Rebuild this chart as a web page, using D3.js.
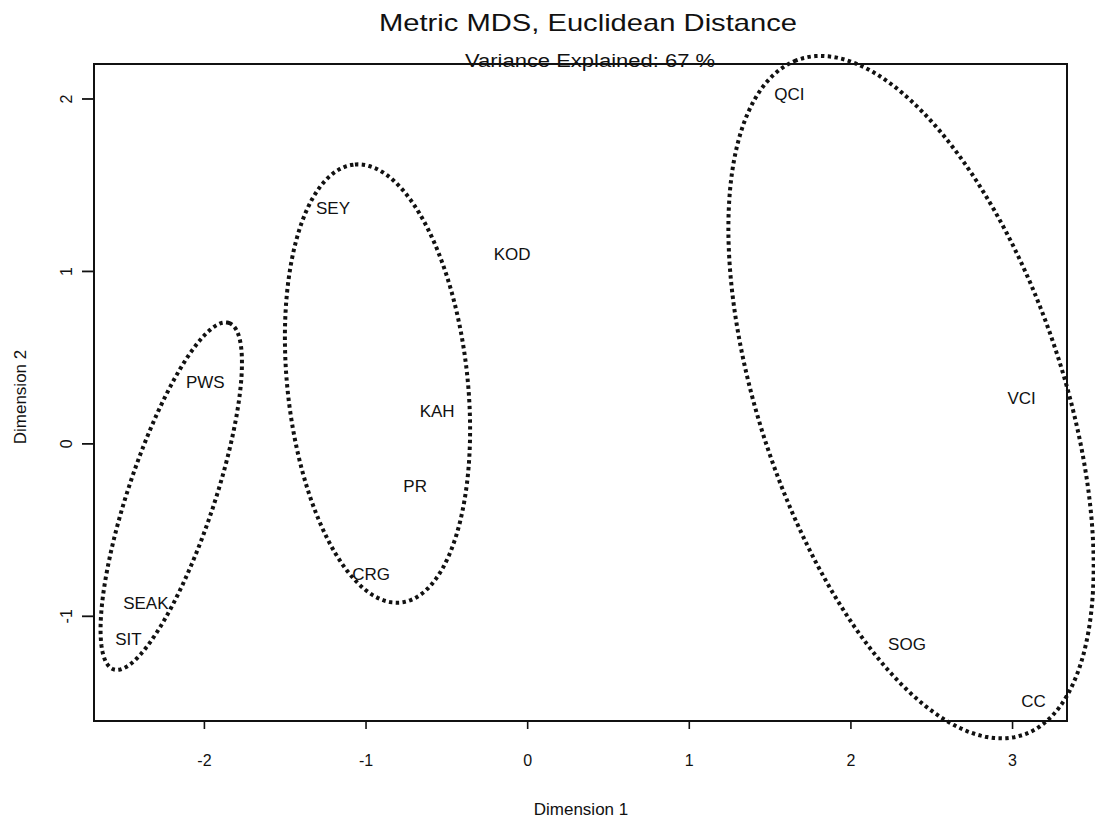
<!DOCTYPE html>
<html>
<head>
<meta charset="utf-8">
<script src="https://cdn.jsdelivr.net/npm/d3@7"></script>
<style>
  html, body { margin: 0; padding: 0; background: #fff; }
  svg { display: block; }
  text { font-family: Arial, "Liberation Sans", Helvetica, sans-serif; fill: #111; }
</style>
</head>
<body>
<svg id="chart" width="1095" height="819"></svg>
<script>
// Site coordinates on the first two MDS dimensions
const sites = ["SEY", "KOD", "QCI", "PWS", "KAH", "VCI", "PR", "CRG", "SEAK", "SIT", "SOG", "CC"];
const dim1  = [-1.201, -0.093, 1.622, -1.991, -0.557, 3.059, -0.693, -0.966, -2.359, -2.467, 2.350, 3.133];
const dim2  = [1.365, 1.098, 2.024, 0.358, 0.190, 0.265, -0.248, -0.756, -0.927, -1.131, -1.160, -1.496];

// Group ellipses in data units: centre, semi-axes, rotation (degrees)
const ellipseCx    = [-2.202, -0.926, 2.375];
const ellipseCy    = [-0.306, 0.347, 0.268];
const ellipseA     = [1.066, 1.278, 2.078];
const ellipseB     = [0.265, 0.557, 0.935];
const ellipseAngle = [70.3, 96.7, 110.0];

// Axis ticks
const xTicks = [-2, -1, 0, 1, 2, 3];
const yTicks = [-1, 0, 1, 2];

const title = "Metric MDS, Euclidean Distance";
const subtitle = "Variance Explained: 67 %";

const svg = d3.select("#chart");

const x = d3.scaleLinear().domain([-2.68, 3.34]).range([94, 1067]);
const y = d3.scaleLinear().domain([-1.61, 2.20]).range([721, 64]);

// plain hyphen for negative tick values
const tickText = d => String(d);

// Bottom axis
const xAxis = d3.axisBottom(x).tickValues(xTicks).tickSize(8).tickPadding(26).tickFormat(tickText);
const gx = svg.append("g").attr("transform", `translate(0,${y.range()[0]})`).call(xAxis);
gx.select(".domain").remove();
gx.selectAll("line").attr("stroke", "#111").attr("stroke-width", 1.6);
gx.selectAll("text").attr("font-size", 16).attr("fill", "#111")
  .attr("font-family", "Arial, 'Liberation Sans', sans-serif");

// Left axis with rotated labels
const yAxis = d3.axisLeft(y).tickValues(yTicks).tickSize(12).tickFormat(tickText);
const gy = svg.append("g").attr("transform", `translate(${x.range()[0]},0)`).call(yAxis);
gy.select(".domain").remove();
gy.selectAll("line").attr("stroke", "#111").attr("stroke-width", 1.8);
gy.selectAll("text")
  .attr("font-size", 16).attr("fill", "#111")
  .attr("font-family", "Arial, 'Liberation Sans', sans-serif")
  .attr("x", null).attr("dy", null)
  .attr("text-anchor", "middle")
  .attr("transform", "translate(-22,0) rotate(-90)");

// Plot frame
svg.append("rect")
  .attr("x", x.range()[0]).attr("y", y.range()[1])
  .attr("width", x.range()[1] - x.range()[0])
  .attr("height", y.range()[0] - y.range()[1])
  .attr("fill", "none").attr("stroke", "#111").attr("stroke-width", 2);

// Group ellipses, dotted
const line = d3.line().curve(d3.curveLinearClosed);
const nSeg = 240;
ellipseCx.forEach((cx, i) => {
  const th = ellipseAngle[i] * Math.PI / 180;
  const pts = d3.range(nSeg).map(k => {
    const t = 2 * Math.PI * k / nSeg;
    const u = ellipseA[i] * Math.cos(t), v = ellipseB[i] * Math.sin(t);
    const dx = u * Math.cos(th) - v * Math.sin(th);
    const dy = u * Math.sin(th) + v * Math.cos(th);
    return [x(cx + dx), y(ellipseCy[i] + dy)];
  });
  svg.append("path")
    .attr("d", line(pts))
    .attr("fill", "none")
    .attr("stroke", "#111")
    .attr("stroke-width", 4)
    .attr("stroke-dasharray", "3.4 3.4");
});

// Site labels
svg.append("g").selectAll("text")
  .data(sites)
  .join("text")
  .attr("x", (d, i) => x(dim1[i]))
  .attr("y", (d, i) => y(dim2[i]))
  .attr("dy", "0.36em")
  .attr("text-anchor", "middle")
  .attr("font-size", 17)
  .text(d => d);

// Titles
svg.append("text")
  .attr("x", 588).attr("y", 31)
  .attr("text-anchor", "middle")
  .attr("font-size", 24)
  .attr("textLength", 418).attr("lengthAdjust", "spacingAndGlyphs")
  .text(title);

svg.append("text")
  .attr("x", 590).attr("y", 67)
  .attr("text-anchor", "middle")
  .attr("font-size", 18)
  .attr("textLength", 250).attr("lengthAdjust", "spacingAndGlyphs")
  .text(subtitle);

// Axis titles
svg.append("text")
  .attr("x", 581).attr("y", 815)
  .attr("text-anchor", "middle")
  .attr("font-size", 17)
  .text("Dimension 1");

svg.append("text")
  .attr("transform", "translate(26,397) rotate(-90)")
  .attr("text-anchor", "middle")
  .attr("font-size", 17)
  .text("Dimension 2");
</script>
</body>
</html>
